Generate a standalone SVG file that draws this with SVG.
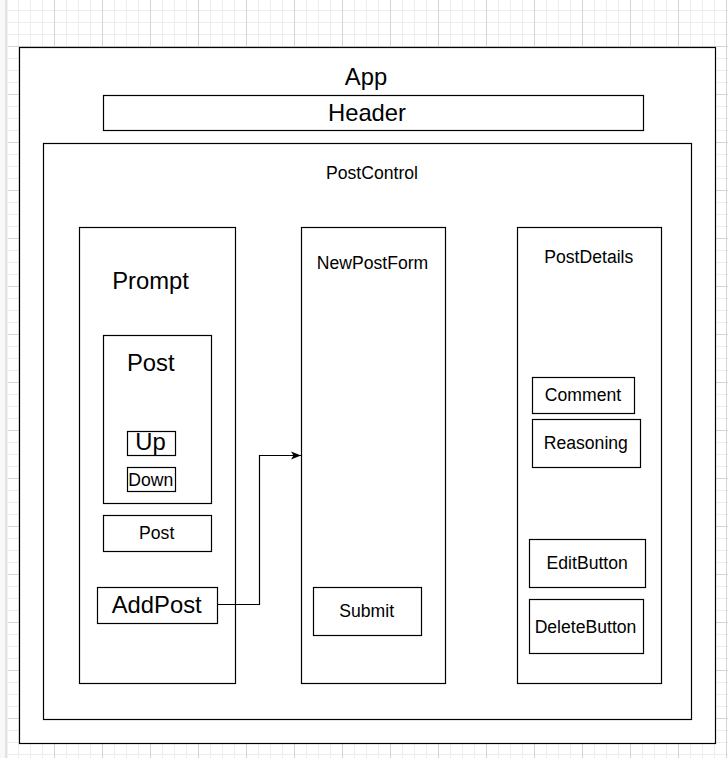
<svg xmlns="http://www.w3.org/2000/svg" width="728" height="758" viewBox="0 0 728 758">
<style>
.box{fill:#ffffff;stroke:#000000;stroke-width:1.2}
.lg{font-family:"Liberation Sans",Arial,sans-serif;font-size:23.8px;fill:#000000;text-anchor:middle}
.sm{font-family:"Liberation Sans",Arial,sans-serif;font-size:17.6px;fill:#000000;text-anchor:middle}
.edge{fill:none;stroke:#000000;stroke-width:1.2}
</style>
<defs>
<pattern id="grid" x="6" y="-2" width="48" height="48" patternUnits="userSpaceOnUse">
<path d="M12.5 0V48M24.5 0V48M36.5 0V48M0 12.5H48M0 24.5H48M0 36.5H48" fill="none" stroke="#ededed" stroke-width="1"/>
<path d="M0.5 0V48M0 0.5H48" fill="none" stroke="#d4d4d4" stroke-width="1"/>
</pattern>
<marker id="arrow" viewBox="0 0 10 10" refX="10" refY="5" markerWidth="10" markerHeight="10" markerUnits="userSpaceOnUse" orient="auto">
<path d="M0,1 L10,5 L0,9 L2.5,5 Z" fill="#000000"/>
</marker>
</defs>
<rect x="0" y="0" width="728" height="758" fill="#ffffff"/>
<rect x="8" y="0" width="720" height="758" fill="url(#grid)"/>
<rect x="0" y="0" width="6" height="758" fill="#f8f8f8"/>
<rect x="5" y="0" width="2.5" height="758" fill="#e2e2e2"/>

<g id="app">
<rect class="box" x="19.5" y="47.5" width="696" height="696"/>
<text class="lg" x="366" y="85">App</text>
</g>
<g id="header">
<rect class="box" x="103.5" y="95.5" width="540" height="35"/>
<text class="lg" x="367" y="120.5">Header</text>
</g>
<g id="postcontrol">
<rect class="box" x="43.5" y="143.5" width="648" height="576"/>
<text class="sm" x="372" y="179">PostControl</text>
</g>
<g id="prompt">
<rect class="box" x="79.5" y="227.5" width="156" height="456"/>
<text class="lg" x="150.5" y="289">Prompt</text>
</g>
<g id="post-inner">
<rect class="box" x="103.5" y="335.5" width="108" height="168"/>
<text class="lg" x="150.7" y="371">Post</text>
</g>
<g id="up">
<rect class="box" x="127.5" y="431.5" width="48" height="24"/>
<text class="lg" x="150.5" y="450">Up</text>
</g>
<g id="down">
<rect class="box" x="127.5" y="467.5" width="48" height="24"/>
<text class="sm" x="150.7" y="485.5">Down</text>
</g>
<g id="post-button">
<rect class="box" x="103.5" y="515.5" width="108" height="36"/>
<text class="sm" x="156.7" y="538.5">Post</text>
</g>
<g id="addpost">
<rect class="box" x="97.5" y="587.5" width="120" height="36"/>
<text class="lg" x="156.7" y="612.7">AddPost</text>
</g>
<g id="newpostform">
<rect class="box" x="301.5" y="227.5" width="144" height="456"/>
<text class="sm" x="372.5" y="269.3">NewPostForm</text>
</g>
<g id="submit">
<rect class="box" x="313.5" y="587.5" width="108" height="48"/>
<text class="sm" x="366.7" y="617.3">Submit</text>
</g>
<g id="postdetails">
<rect class="box" x="517.5" y="227.5" width="144" height="456"/>
<text class="sm" x="588.8" y="262.7">PostDetails</text>
</g>
<g id="comment">
<rect class="box" x="532.5" y="377.5" width="102" height="36"/>
<text class="sm" x="583" y="400.7">Comment</text>
</g>
<g id="reasoning">
<rect class="box" x="532.5" y="419.5" width="108" height="48"/>
<text class="sm" x="585.8" y="449.3">Reasoning</text>
</g>
<g id="editbutton">
<rect class="box" x="529.5" y="539.5" width="116" height="48"/>
<text class="sm" x="587.2" y="569">EditButton</text>
</g>
<g id="deletebutton">
<rect class="box" x="529.5" y="599.5" width="114" height="54"/>
<text class="sm" x="585.5" y="633.3">DeleteButton</text>
</g>

<g id="connectors">
<path class="edge" d="M217.5 604.5 H259.5 V455.5 H301" marker-end="url(#arrow)"/>
</g>
</svg>
